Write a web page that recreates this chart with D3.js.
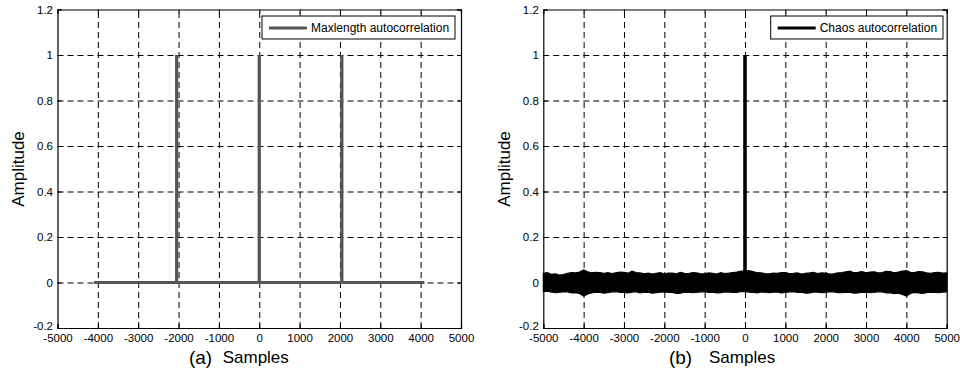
<!DOCTYPE html>
<html>
<head>
<meta charset="utf-8">
<script src="https://cdn.jsdelivr.net/npm/d3@7"></script>
<style>
  body { margin: 0; background: #fff; }
  svg { display: block; font-family: "Liberation Sans", Arial, sans-serif; }
</style>
</head>
<body>
<script>
// ---- data ----
const xTicks = [-5000, -4000, -3000, -2000, -1000, 0, 1000, 2000, 3000, 4000, 5000]
const yTicks = [-0.2, 0, 0.2, 0.4, 0.6, 0.8, 1, 1.2]

// (a) maximal length sequence: periodic peaks of 1, flat 0 elsewhere
const maxSpan = [-4094, 4094]
const maxPeaks = [-2047, 0, 2047]
const maxPeakValue = 1

// (b) chaos autocorrelation: single peak at lag 0, the noise band read as an envelope
const chaosPeak = [0, 1]
const chaosLags = d3.range(-5000, 5001, 100)
const chaosUpper = [
  0.040, 0.043, 0.036, 0.038, 0.033, 0.035, 0.040, 0.044, 0.042, 0.046,
  0.055, 0.047, 0.042, 0.045, 0.044, 0.040, 0.043, 0.039, 0.043, 0.046,
  0.045, 0.041, 0.050, 0.044, 0.042, 0.038, 0.041, 0.037, 0.040, 0.043,
  0.037, 0.041, 0.041, 0.038, 0.044, 0.040, 0.039, 0.043, 0.042, 0.038,
  0.038, 0.042, 0.040, 0.037, 0.043, 0.039, 0.041, 0.044, 0.046, 0.050,
  0.050, 0.052, 0.048, 0.043, 0.042, 0.039, 0.038, 0.041, 0.040, 0.044,
  0.043, 0.039, 0.040, 0.042, 0.037, 0.040, 0.042, 0.045, 0.039, 0.042,
  0.041, 0.037, 0.038, 0.042, 0.044, 0.047, 0.050, 0.043, 0.045, 0.048,
  0.043, 0.046, 0.047, 0.042, 0.044, 0.049, 0.048, 0.043, 0.046, 0.050,
  0.052, 0.045, 0.044, 0.048, 0.047, 0.043, 0.040, 0.044, 0.045, 0.041,
  0.042]
const chaosLower = [
  -0.040, -0.038, -0.042, -0.045, -0.044, -0.040, -0.041, -0.046, -0.045, -0.048,
  -0.060, -0.050, -0.046, -0.042, -0.043, -0.047, -0.045, -0.041, -0.040, -0.043,
  -0.044, -0.046, -0.042, -0.040, -0.046, -0.043, -0.043, -0.047, -0.045, -0.042,
  -0.041, -0.044, -0.044, -0.048, -0.047, -0.043, -0.042, -0.045, -0.044, -0.041,
  -0.040, -0.044, -0.043, -0.046, -0.045, -0.041, -0.042, -0.044, -0.044, -0.039,
  -0.040, -0.042, -0.043, -0.046, -0.041, -0.044, -0.045, -0.042, -0.042, -0.046,
  -0.044, -0.041, -0.040, -0.044, -0.043, -0.047, -0.046, -0.042, -0.042, -0.045,
  -0.044, -0.040, -0.041, -0.045, -0.045, -0.042, -0.043, -0.047, -0.046, -0.043,
  -0.042, -0.045, -0.044, -0.040, -0.041, -0.046, -0.045, -0.049, -0.047, -0.052,
  -0.060, -0.048, -0.044, -0.046, -0.048, -0.045, -0.042, -0.044, -0.045, -0.042,
  -0.041]

const width = 960
const height = 373

const svg = d3.select('body').append('svg')
  .attr('viewBox', `0 0 ${width} ${height}`)
  .attr('width', width)
  .attr('height', height)

svg.append('rect').attr('width', width).attr('height', height).attr('fill', '#fff')

const plotTop = 9.5, plotBottom = 328
const tickFmt = d => String(d)   // plain hyphen minus, like the original

const panels = [
  {left: 57.5, right: 461, tag: '(a)', tagX: 200.5, samplesX: 222.7,
   legend: 'Maxlength autocorrelation', legendBox: [262, 455], color: '#555', kind: 'max'},
  {left: 543.3, right: 946.7, tag: '(b)', tagX: 680.5, samplesX: 709,
   legend: 'Chaos autocorrelation', legendBox: [770.7, 943], color: '#000', kind: 'chaos'}
]

for (const p of panels) {
  const x = d3.scaleLinear().domain([-5000, 5000]).range([p.left, p.right])
  const y = d3.scaleLinear().domain([-0.2, 1.2]).range([plotBottom, plotTop])
  const g = svg.append('g')

  // dashed grid
  g.append('g')
    .attr('transform', `translate(0,${plotBottom})`)
    .call(d3.axisBottom(x).tickValues(xTicks.slice(1, -1)).tickSize(-(plotBottom - plotTop)).tickFormat(''))
    .call(s => s.select('.domain').remove())
    .selectAll('line').attr('stroke', '#000').attr('stroke-width', 1).attr('stroke-dasharray', '6,4')
  g.append('g')
    .attr('transform', `translate(${p.left},0)`)
    .call(d3.axisLeft(y).tickValues(yTicks.slice(1, -1)).tickSize(-(p.right - p.left)).tickFormat(''))
    .call(s => s.select('.domain').remove())
    .selectAll('line').attr('stroke', '#000').attr('stroke-width', 1).attr('stroke-dasharray', '6,4')

  // data
  if (p.kind === 'max') {
    const pts = [[maxSpan[0], 0]]
    for (const k of maxPeaks) pts.push([k, 0], [k, maxPeakValue], [k, 0])
    pts.push([maxSpan[1], 0])
    g.append('path')
      .attr('d', d3.line().x(d => x(d[0])).y(d => y(d[1]))(pts))
      .attr('fill', 'none').attr('stroke', p.color).attr('stroke-width', 3.2)
      .attr('stroke-linejoin', 'miter')
  } else {
    const band = chaosLags.map((v, i) => ({x: v, lo: chaosLower[i], hi: chaosUpper[i]}))
    g.append('path')
      .attr('d', d3.area().x(d => x(d.x)).y0(d => y(d.lo)).y1(d => y(d.hi))(band))
      .attr('fill', '#000').attr('stroke', '#000').attr('stroke-width', 1.2)
    g.append('line')
      .attr('x1', x(chaosPeak[0])).attr('x2', x(chaosPeak[0]))
      .attr('y1', y(0)).attr('y2', y(chaosPeak[1]))
      .attr('stroke', '#000').attr('stroke-width', 3.6)
  }

  // frame + inward ticks
  const fs = '11.5px'
  g.append('g')
    .attr('transform', `translate(0,${plotBottom})`)
    .call(d3.axisBottom(x).tickValues(xTicks).tickSize(-4).tickPadding(6).tickFormat(tickFmt))
    .call(s => s.selectAll('text').attr('font-size', fs).attr('font-family', 'Liberation Sans, Arial').attr('fill', '#000'))
  g.append('g')
    .attr('transform', `translate(0,${plotTop})`)
    .call(d3.axisTop(x).tickValues(xTicks).tickSize(-4).tickFormat(''))
  g.append('g')
    .attr('transform', `translate(${p.left},0)`)
    .call(d3.axisLeft(y).tickValues(yTicks).tickSize(-4).tickPadding(4.5).tickFormat(tickFmt))
    .call(s => s.selectAll('text').attr('font-size', fs).attr('font-family', 'Liberation Sans, Arial').attr('fill', '#000'))
    .call(s => s.selectAll('.tick').filter(d => d === -0.2).select('text').attr('dy', '0.1em'))
  g.append('g')
    .attr('transform', `translate(${p.right},0)`)
    .call(d3.axisRight(y).tickValues(yTicks).tickSize(-4).tickFormat(''))
  g.selectAll('.domain').attr('stroke', '#000').attr('stroke-width', 1.2)
  g.selectAll('.tick line').filter(function () { return !this.getAttribute('stroke-dasharray') })
    .attr('stroke', '#000')

  // legend
  const [lx0, lx1] = p.legendBox
  g.append('rect')
    .attr('x', lx0).attr('y', 16).attr('width', lx1 - lx0).attr('height', 23)
    .attr('fill', '#fff').attr('stroke', '#000').attr('stroke-width', 1)
  g.append('line')
    .attr('x1', lx0 + 7).attr('x2', lx0 + 45).attr('y1', 28).attr('y2', 28)
    .attr('stroke', p.color).attr('stroke-width', 3.2)
  g.append('text')
    .attr('x', lx0 + 49).attr('y', 32.2)
    .attr('font-size', '12px').text(p.legend)

  // axis labels
  g.append('text')
    .attr('transform', `translate(${p.left - 33.5},169) rotate(-90)`)
    .attr('text-anchor', 'middle').attr('font-size', '17px').text('Amplitude')
  g.append('text')
    .attr('x', p.tagX).attr('y', 364).attr('text-anchor', 'middle')
    .attr('font-size', '19px').text(p.tag)
  g.append('text')
    .attr('x', p.samplesX).attr('y', 363)
    .attr('font-size', '17px').text('Samples')
}
</script>
</body>
</html>
